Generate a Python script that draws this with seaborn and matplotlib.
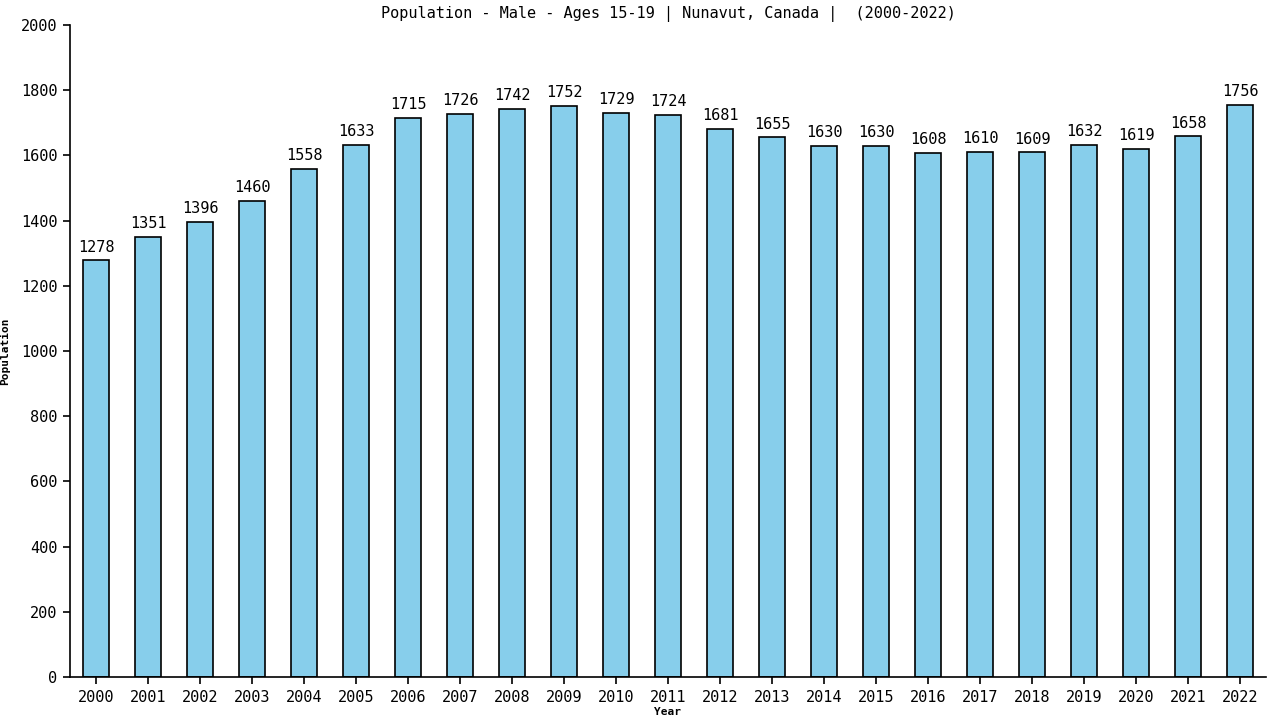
import matplotlib
matplotlib.use("Agg")
import matplotlib.pyplot as plt
import seaborn as sns
import pandas as pd

sns.set_theme(style="ticks")
plt.rcParams["font.family"] = ["DejaVu Sans Mono"]

years = [str(y) for y in range(2000, 2023)]
population = [1278, 1351, 1396, 1460, 1558, 1633, 1715, 1726, 1742, 1752, 1729, 1724,
              1681, 1655, 1630, 1630, 1608, 1610, 1609, 1632, 1619, 1658, 1756]

df = pd.DataFrame({"Year": years, "Population": population})

fig = plt.figure(figsize=(12.8, 7.2), dpi=100)
ax = fig.add_axes([70 / 1280, 43 / 720, 1196 / 1280, 652 / 720])

sns.barplot(data=df, x="Year", y="Population", color="#87ceeb", width=0.5,
            edgecolor="black", linewidth=1.2, saturation=1, ax=ax)

for i, v in enumerate(population):
    ax.text(i, v + 18, str(v), ha="center", va="bottom", fontsize=11, color="black")

ax.set_xlim(-0.5, len(years) - 0.5)
ax.set_ylim(0, 2000)
ax.set_yticks(range(0, 2001, 200))
ax.tick_params(axis="both", labelsize=11, length=5, width=1.2, pad=4,
               color="black", labelcolor="black")
for s in ["left", "bottom"]:
    ax.spines[s].set_linewidth(1.2)
    ax.spines[s].set_color("black")
sns.despine(ax=ax)

ax.set_xlabel("Year", fontsize=8, fontweight="bold", labelpad=2, color="black")
ax.set_ylabel("Population", fontsize=8, fontweight="bold", labelpad=8, color="black")
ax.set_title("Population - Male - Ages 15-19 | Nunavut, Canada |  (2000-2022)",
             fontsize=11, pad=5, color="black")

fig.savefig("out.png", dpi=100)
